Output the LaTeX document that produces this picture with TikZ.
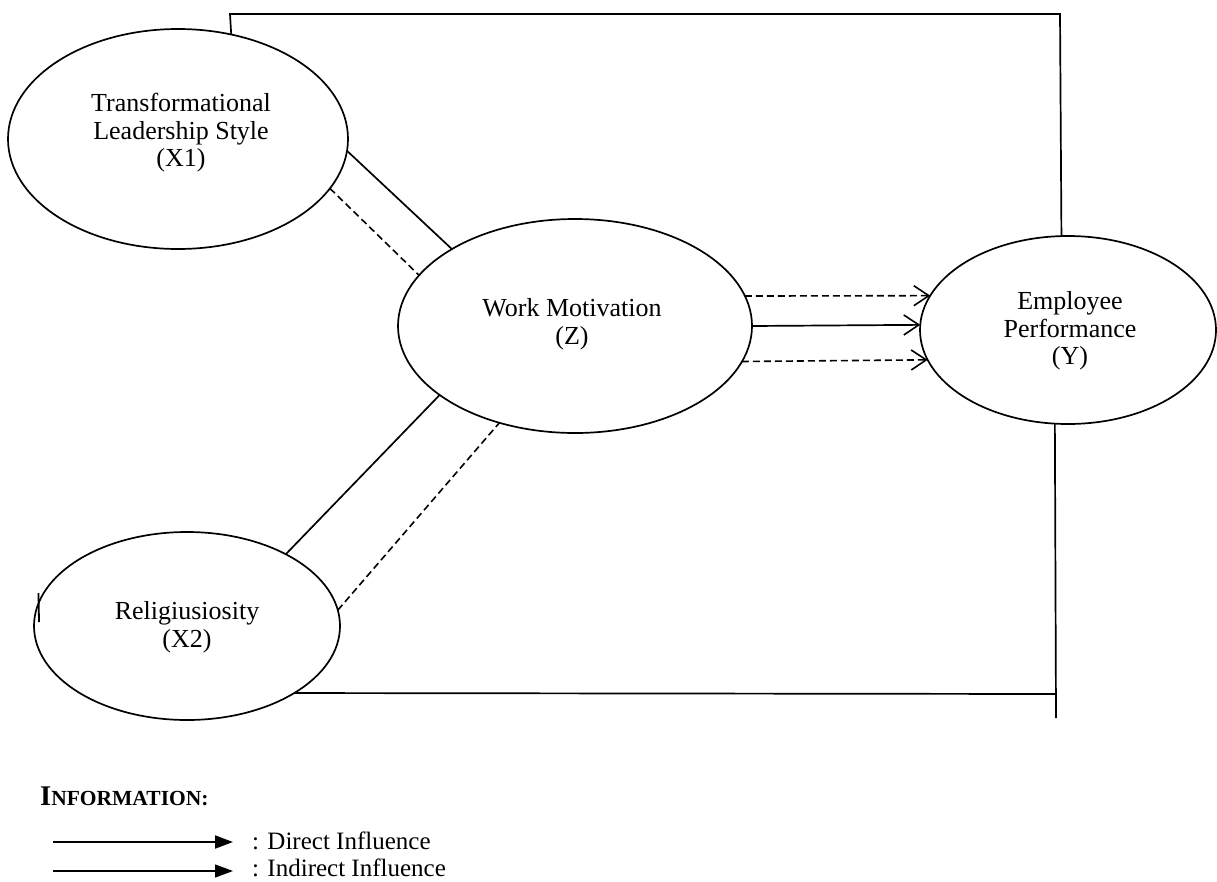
\documentclass[tikz,border=0pt]{standalone}
\usepackage{fontspec}
\setmainfont{Liberation Serif}
\usetikzlibrary{arrows.meta,shapes.geometric}
\tikzset{
  oval/.style={draw, ellipse, line width=1.7pt, inner sep=0pt, outer sep=0pt},
  lbl/.style={align=center, font=\fontsize{26}{27.5}\selectfont, inner sep=0pt},
  conn/.style={line width=1.7pt},
  dconn/.style={line width=1.6pt, dash pattern=on 7pt off 4pt},
  barb/.style={-{Straight Barb[length=15pt,width=20pt,line width=1.6pt]}},
  legtxt/.style={anchor=west, inner sep=0pt, font=\fontsize{25}{27}\selectfont},
  legarrow/.style={-{Triangle[length=18pt,width=13pt]}}
}
\begin{document}
\begin{tikzpicture}[x=1pt,y=-1pt]
\useasboundingbox (0,0) rectangle (1217,881);
% ellipses
\node[oval, minimum width=340pt, minimum height=220pt] (X1) at (178,139) {};
\node[oval, minimum width=354pt, minimum height=214pt] (Z) at (575,326) {};
\node[oval, minimum width=296pt, minimum height=188pt] (Y) at (1068,330) {};
\node[oval, minimum width=306pt, minimum height=188pt] (X2) at (187,626) {};
% labels
\node[lbl] (tX1) at (181,133) {Transformational\\Leadership Style\\(X1)};
\node[lbl] (tZ) at (572,324) {Work Motivation\\(Z)};
\node[lbl] (tY) at (1070,331) {Employee\\Performance\\(Y)};
\node[lbl] (tX2) at (187,627) {Religiusiosity\\(X2)};
% X1 -- Z
\draw[conn] (X1.-4.4) -- (Z.148);
\draw[dconn] (X1.-18.7) -- (Z.162.4);
% X2 -- Z
\draw[conn] (X2.36.5) -- (Z.207.2);
\draw[dconn] (X2.6.8) -- (Z.232.6);
% Z -> Y
\draw[dconn, barb] (Z.10) -- (Y.166.2);
\draw[conn, barb] (Z.0) -- (Y.178.5);
\draw[dconn, barb] (Z.-12.2) -- (Y.192.95);
% frame
\coordinate (tl) at (230,14);
\coordinate (tr) at (1060,14);
\draw[conn] (X1.63.7) -- (tl) -- (tr) -- (Y.94.9);
\coordinate (br) at (1056,694);
\coordinate (bend) at (1056,718);
\draw[conn] (X2.-32.8) -- (br);
\draw[conn] (Y.262.7) -- (bend);
% stray tick
\coordinate (tk1) at (38.5,593);
\coordinate (tk2) at (39,622);
\draw[line width=1.8pt] (tk1) -- (tk2);
% legend
\node[anchor=base west, inner sep=0pt, font=\bfseries] (info) at (40,805)
  {\fontsize{28.5}{30}\selectfont I\fontsize{21.5}{30}\selectfont NFORMATION:};
\coordinate (a1s) at (53,842);
\coordinate (a1e) at (233,842);
\coordinate (a2s) at (53,871);
\coordinate (a2e) at (233,871);
\draw[line width=1.9pt, legarrow] (a1s) -- (a1e);
\draw[line width=1.2pt, legarrow] (a2s) -- (a2e);
\node[legtxt] (d1) at (252,841) {: Direct Influence};
\node[legtxt] (d2) at (252,868) {: Indirect Influence};
\end{tikzpicture}
\end{document}
